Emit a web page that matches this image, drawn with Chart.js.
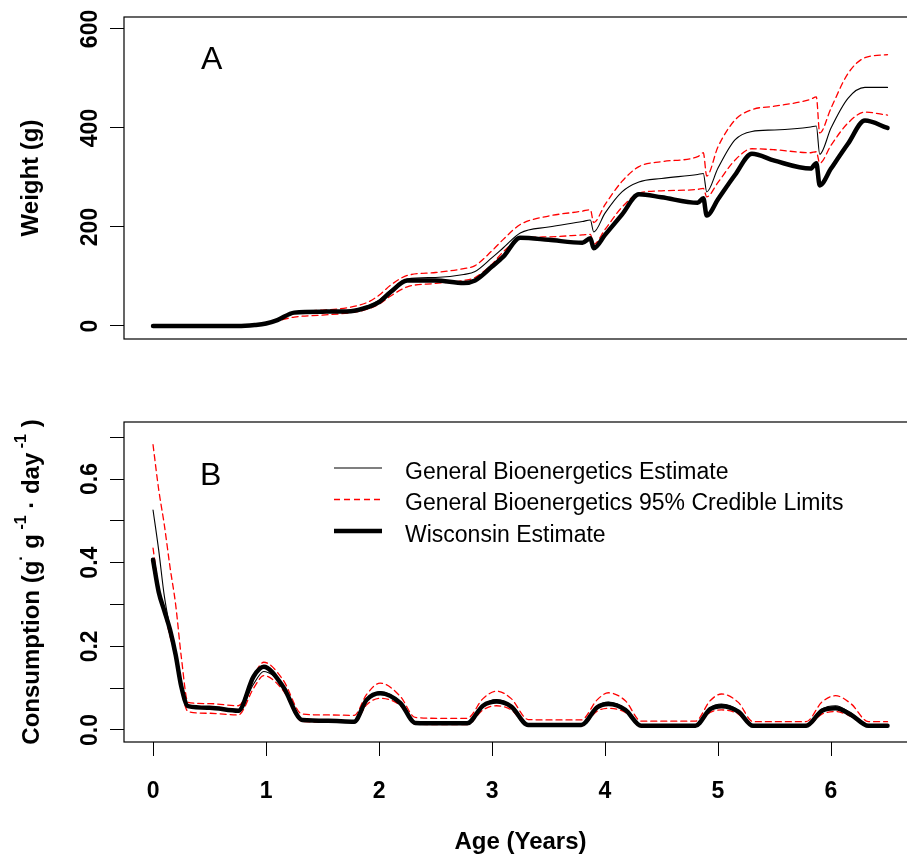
<!DOCTYPE html>
<html>
<head>
<meta charset="utf-8">
<script src="https://cdn.jsdelivr.net/npm/chart.js@4.4.1/dist/chart.umd.min.js"></script>
<style>
  html, body { margin: 0; padding: 0; background: #fff; overflow: hidden; width: 907px; height: 857px; }
  .panel { position: absolute; left: 0; }
  #weightWrap { top: 0; }
  #consWrap { top: 370px; }
</style>
</head>
<body>
<div class="panel" id="weightWrap"><canvas id="weight" width="918" height="370"></canvas></div>
<div class="panel" id="consWrap"><canvas id="consumption" width="918" height="487"></canvas></div>
<script>
"use strict";

// Panel A - weight (g) by age (years)
const weightAge = [0, 0.5, 0.75, 0.9, 1.0, 1.1, 1.25, 1.5, 1.75, 1.9, 2.0, 2.1, 2.25, 2.5, 2.75, 2.85, 3.0, 3.1, 3.25, 3.5, 3.8, 3.87, 3.9, 4.0, 4.15, 4.3, 4.5, 4.82, 4.87, 4.9, 5.0, 5.15, 5.3, 5.5, 5.82, 5.87, 5.9, 6.0, 6.15, 6.3, 6.5];
const weightWisconsin = [0, 0, 0, 2, 5, 12, 27, 29, 30, 38, 48, 68, 92, 92, 87, 92, 120, 140, 178, 174, 168, 177, 157, 184, 225, 266, 260, 249, 258, 223, 256, 305, 348, 334, 318, 329, 284, 318, 368, 415, 400];
const weightGeneral = [0, 0, 0, 2, 5, 12, 27, 29, 31, 40, 52, 72, 95, 98, 104, 110, 138, 158, 188, 200, 211, 214, 190, 228, 271, 291, 298, 306, 308, 271, 319, 376, 393, 396, 402, 404, 347, 400, 460, 482, 482];
const weightUpper = [0, 0, 0, 2, 6, 14, 28, 32, 38, 48, 62, 82, 102, 108, 116, 122, 152, 175, 205, 222, 232, 235, 209, 245, 292, 322, 332, 342, 350, 303, 362, 416, 437, 444, 458, 463, 390, 440, 510, 542, 548];
const weightLower = [0, 0, 0, 1, 4, 10, 18, 22, 27, 34, 44, 60, 79, 86, 92, 98, 125, 150, 176, 180, 184, 185, 165, 195, 240, 268, 273, 276, 278, 261, 290, 335, 358, 356, 350, 352, 329, 365, 410, 432, 426];

// Panel B - consumption by age
const consAge = [0, 0.05, 0.1, 0.15, 0.2, 0.25, 0.31, 0.5, 0.755, 0.89, 0.98, 1.15, 1.32, 1.55, 1.78, 1.89, 2.01, 2.19, 2.32, 2.55, 2.78, 2.92, 3.04, 3.17, 3.32, 3.55, 3.79, 3.93, 4.03, 4.18, 4.32, 4.55, 4.8, 4.93, 5.03, 5.18, 5.31, 5.55, 5.78, 5.92, 6.04, 6.18, 6.33, 6.5];
const consWisconsin = [0.407, 0.33, 0.285, 0.24, 0.18, 0.104, 0.057, 0.053, 0.046, 0.128, 0.151, 0.104, 0.024, 0.022, 0.020, 0.072, 0.088, 0.064, 0.017, 0.016, 0.016, 0.058, 0.068, 0.056, 0.012, 0.012, 0.012, 0.054, 0.062, 0.048, 0.010, 0.010, 0.010, 0.050, 0.057, 0.044, 0.010, 0.010, 0.010, 0.046, 0.052, 0.036, 0.010, 0.010];
const consGeneral = [0.526, 0.43, 0.32, 0.245, 0.18, 0.104, 0.058, 0.052, 0.046, 0.110, 0.140, 0.106, 0.026, 0.024, 0.022, 0.070, 0.092, 0.066, 0.019, 0.018, 0.018, 0.060, 0.073, 0.058, 0.014, 0.014, 0.014, 0.057, 0.067, 0.051, 0.012, 0.012, 0.012, 0.053, 0.062, 0.047, 0.012, 0.012, 0.012, 0.050, 0.058, 0.040, 0.012, 0.012];
const consUpper = [0.682, 0.575, 0.49, 0.39, 0.30, 0.175, 0.066, 0.063, 0.058, 0.130, 0.162, 0.120, 0.038, 0.036, 0.035, 0.085, 0.112, 0.080, 0.030, 0.028, 0.028, 0.075, 0.093, 0.075, 0.025, 0.024, 0.024, 0.072, 0.089, 0.070, 0.021, 0.021, 0.021, 0.070, 0.086, 0.066, 0.020, 0.020, 0.020, 0.067, 0.082, 0.062, 0.020, 0.020];
const consLower = [0.435, 0.34, 0.28, 0.225, 0.17, 0.095, 0.044, 0.040, 0.036, 0.100, 0.130, 0.095, 0.020, 0.019, 0.018, 0.060, 0.076, 0.058, 0.014, 0.013, 0.013, 0.048, 0.058, 0.048, 0.010, 0.010, 0.010, 0.045, 0.052, 0.042, 0.008, 0.008, 0.008, 0.042, 0.048, 0.038, 0.008, 0.008, 0.008, 0.038, 0.044, 0.032, 0.008, 0.008];

// Ticks
const ageTicks = [0, 1, 2, 3, 4, 5, 6];
const ageTickLabels = ["0", "1", "2", "3", "4", "5", "6"];
const weightTicks = [0, 200, 400, 600];
const weightTickLabels = ["0", "200", "400", "600"];
const consTicks = [0, 0.1, 0.2, 0.3, 0.4, 0.5, 0.6, 0.7];
const consTickLabels = ["0.0", "", "0.2", "", "0.4", "", "0.6", ""];

const legendLabels = ["General Bioenergetics Estimate", "General Bioenergetics 95% Credible Limits", "Wisconsin Estimate"];

const FONT = '"Liberation Sans", Arial, sans-serif';
const X_MIN = -0.257;
const X_MAX = 6.761;

// line styles
const thinStyle = { borderColor: "#000", borderWidth: 1.1 };
const ciStyle = { borderColor: "#ff0000", borderWidth: 1.3, borderDash: [6, 4] };
const thickStyle = { borderColor: "#000", borderWidth: 4.5 };


const makeSeries = (ages, values, style) => ({
  data: ages.map((a, i) => ({ x: a, y: values[i] })),
  pointRadius: 0,
  cubicInterpolationMode: "monotone",
  borderCapStyle: "round",
  borderJoinStyle: "round",
  fill: false,
  ...style,
});


// frame, rotated y tick labels, panel letter
const panelDecor = {
  id: "panelDecor",
  afterDraw(chart, args, opts) {
    const { ctx, chartArea: area } = chart;
    const yScale = chart.scales.y;
    ctx.save();
    ctx.strokeStyle = "#000";
    ctx.lineWidth = 1.2;
    ctx.strokeRect(area.left, area.top, area.right - area.left, area.bottom - area.top);

    ctx.fillStyle = "#000";
    ctx.font = `bold 23px ${FONT}`;
    ctx.textAlign = "center";
    ctx.textBaseline = "alphabetic";
    yScale.ticks.forEach((t) => {
      if (!t.label) return;
      ctx.save();
      ctx.translate(97, yScale.getPixelForValue(t.value));
      ctx.rotate(-Math.PI / 2);
      ctx.fillText(t.label, 0, 0);
      ctx.restore();
    });

    ctx.font = `32px ${FONT}`;
    ctx.textAlign = "left";
    ctx.fillText(opts.letter, opts.letterX, opts.letterY);
    ctx.restore();
  },
};


// y title with superscripts + legend for panel B
const consExtras = {
  id: "consExtras",
  afterDraw(chart) {
    const { ctx, chartArea: area } = chart;
    ctx.save();
    ctx.fillStyle = "#000";

    const parts = [
      { t: "Consumption (g", sup: false },
      { t: "·", sup: true },
      { t: " g", sup: false },
      { t: " -1", sup: true },
      { t: " · day", sup: false },
      { t: " -1", sup: true },
      { t: " )", sup: false },
    ];
    const mainFont = `bold 24px ${FONT}`;
    const supFont = `bold 16px ${FONT}`;
    let total = 0;
    parts.forEach((p) => {
      ctx.font = p.sup ? supFont : mainFont;
      p.w = ctx.measureText(p.t).width;
      total += p.w;
    });
    ctx.translate(39, (area.top + area.bottom) / 2);
    ctx.rotate(-Math.PI / 2);
    ctx.textAlign = "left";
    ctx.textBaseline = "alphabetic";
    let pos = -total / 2;
    parts.forEach((p) => {
      ctx.font = p.sup ? supFont : mainFont;
      ctx.fillText(p.t, pos, p.sup ? -13 : 0);
      pos += p.w;
    });
    ctx.restore();

    // legend
    const rows = [
      { y: 98, style: thinStyle },
      { y: 129.5, style: ciStyle },
      { y: 161, style: thickStyle },
    ];
    ctx.save();
    rows.forEach((r, i) => {
      ctx.beginPath();
      ctx.strokeStyle = r.style.borderColor;
      ctx.lineWidth = r.style.borderWidth;
      ctx.setLineDash(r.style.borderDash || []);
      ctx.lineCap = "butt";
      ctx.moveTo(334, r.y);
      ctx.lineTo(382, r.y);
      ctx.stroke();
      ctx.setLineDash([]);
      ctx.fillStyle = "#000";
      ctx.font = `23px ${FONT}`;
      ctx.textAlign = "left";
      ctx.textBaseline = "alphabetic";
      ctx.fillText(legendLabels[i], 405, r.y + 10.5);
    });
    ctx.restore();
  },
};


const yGrid = { drawOnChartArea: false, drawTicks: true, tickLength: 14, color: "#000", lineWidth: 1 };

// Chart A
new Chart(document.getElementById("weight"), {
  type: "line",
  data: {
    datasets: [
      makeSeries(weightAge, weightWisconsin, thickStyle),
      makeSeries(weightAge, weightUpper, ciStyle),
      makeSeries(weightAge, weightLower, ciStyle),
      makeSeries(weightAge, weightGeneral, thinStyle),
    ],
  },
  options: {
    responsive: false,
    animation: false,
    devicePixelRatio: 1,
    layout: { padding: { top: 17, bottom: 31, left: 0, right: 1 } },
    plugins: {
      legend: { display: false },
      tooltip: { enabled: false },
      panelDecor: { letter: "A", letterX: 201, letterY: 69 },
    },
    scales: {
      x: { type: "linear", display: false, min: X_MIN, max: X_MAX },
      y: {
        type: "linear",
        min: -26.3,
        max: 624.2,
        afterBuildTicks: (s) => { s.ticks = weightTicks.map((v) => ({ value: v })); },
        afterFit: (s) => { s.width = 124; },
        ticks: { display: false, callback: (v, i) => weightTickLabels[i] },
        grid: yGrid,
        border: { display: false },
        title: {
          display: true,
          text: "Weight (g)",
          color: "#000",
          font: { family: FONT, size: 24, weight: "bold" },
          padding: { top: 17, bottom: 0 },
        },
      },
    },
  },
  plugins: [panelDecor],
});


// Chart B
new Chart(document.getElementById("consumption"), {
  type: "line",
  data: {
    datasets: [
      makeSeries(consAge, consWisconsin, thickStyle),
      makeSeries(consAge, consUpper, ciStyle),
      makeSeries(consAge, consLower, ciStyle),
      makeSeries(consAge, consGeneral, thinStyle),
    ],
  },
  options: {
    responsive: false,
    animation: false,
    devicePixelRatio: 1,
    layout: { padding: { top: 52, bottom: 0, left: 0, right: 1 } },
    plugins: {
      legend: { display: false },
      tooltip: { enabled: false },
      panelDecor: { letter: "B", letterX: 200, letterY: 115 },
    },
    scales: {
      x: {
        type: "linear",
        min: X_MIN,
        max: X_MAX,
        afterBuildTicks: (s) => { s.ticks = ageTicks.map((v) => ({ value: v })); },
        afterFit: (s) => { s.height = 115; },
        ticks: {
          color: "#000",
          font: { family: FONT, size: 23, weight: "bold" },
          padding: 22,
          minRotation: 0,
          maxRotation: 0,
          autoSkip: false,
          callback: (v, i) => ageTickLabels[i],
        },
        grid: { drawOnChartArea: false, drawTicks: true, tickLength: 14, color: "#000", lineWidth: 1 },
        border: { display: false },
        title: {
          display: true,
          text: "Age (Years)",
          color: "#000",
          font: { family: FONT, size: 24, weight: "bold" },
          padding: { top: 0, bottom: 0 },
        },
      },
      y: {
        type: "linear",
        min: -0.0287,
        max: 0.7363,
        afterBuildTicks: (s) => { s.ticks = consTicks.map((v) => ({ value: v })); },
        afterFit: (s) => { s.width = 124; },
        ticks: { display: false, callback: (v, i) => consTickLabels[i] },
        grid: yGrid,
        border: { display: false },
      },
    },
  },
  plugins: [panelDecor, consExtras],
});
</script>
</body>
</html>
